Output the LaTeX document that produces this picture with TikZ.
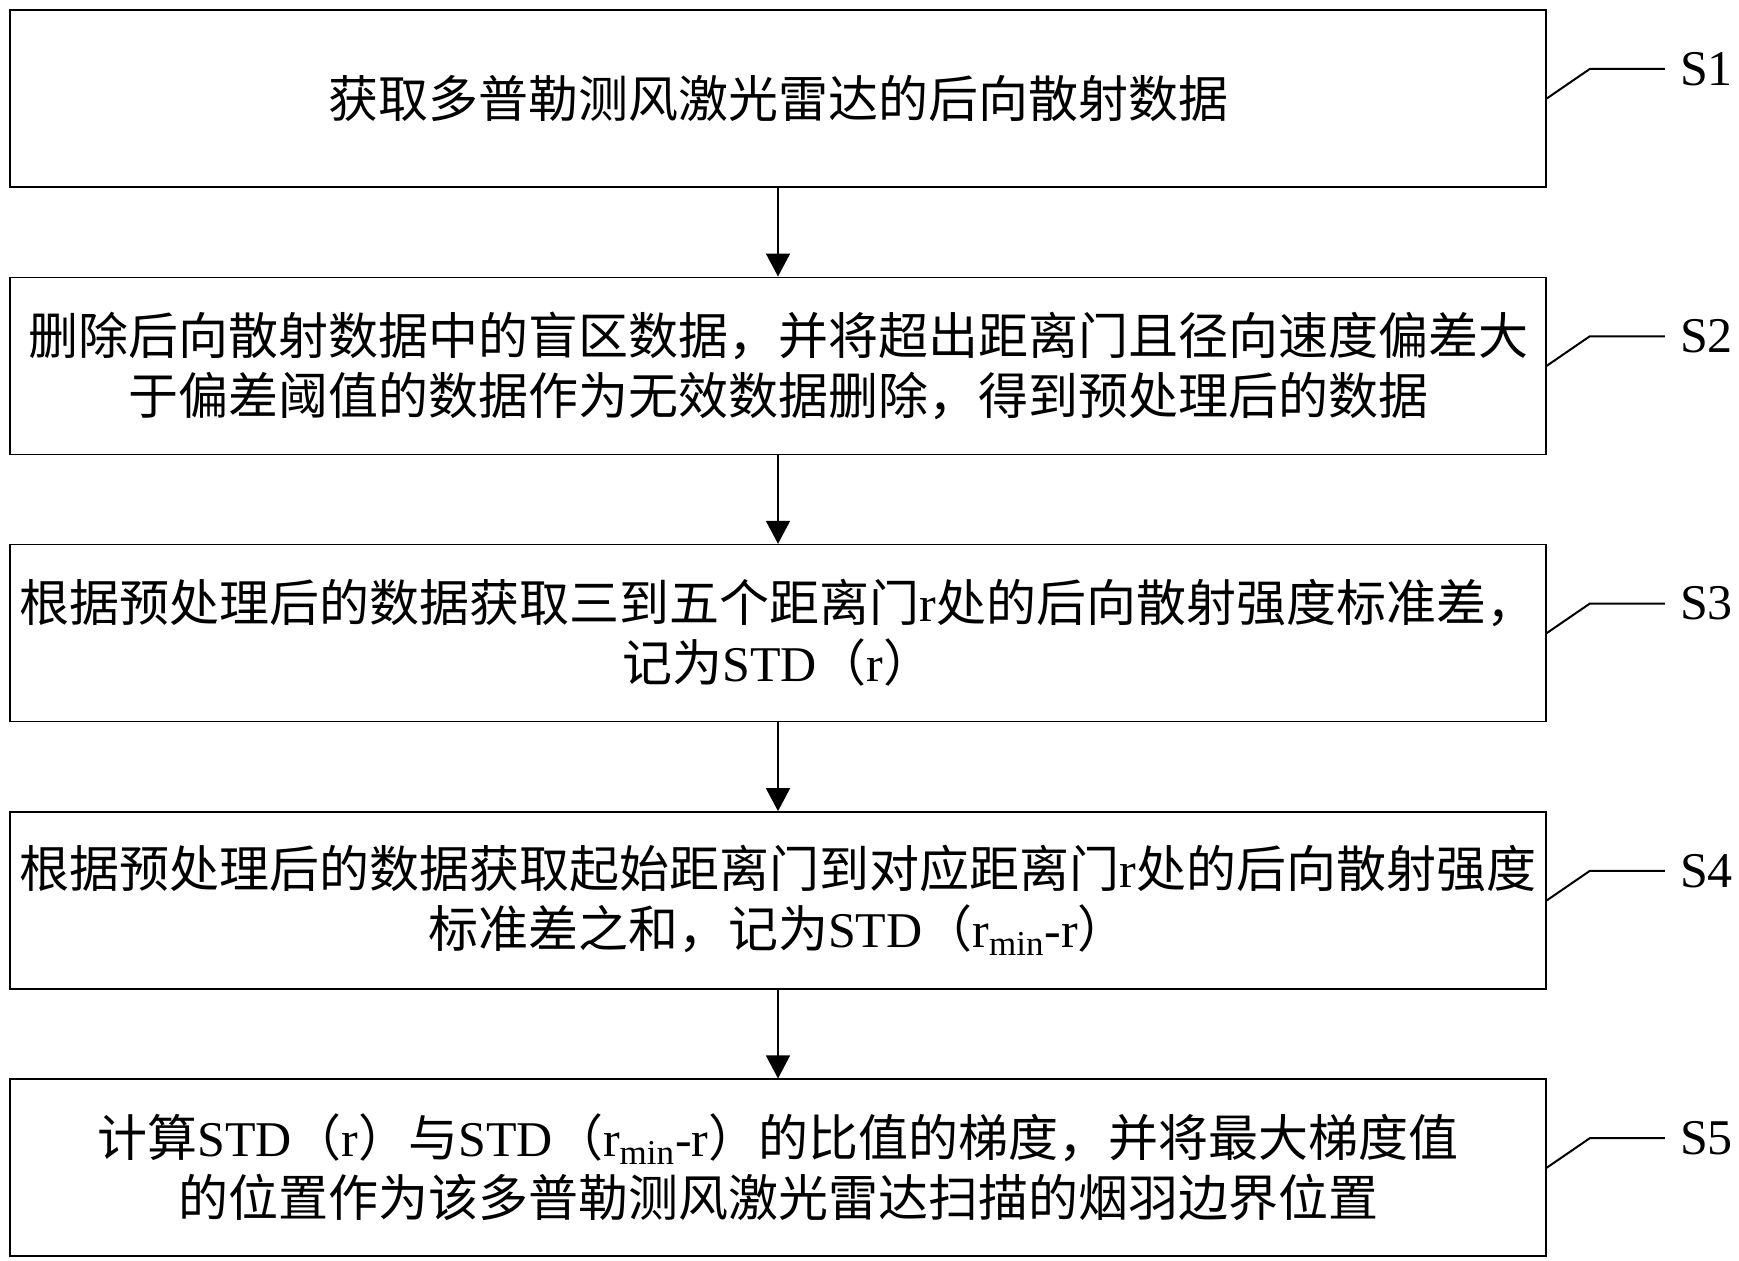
\documentclass[tikz,border=0pt]{standalone}
\usepackage{fontspec}
\setmainfont{Noto Sans CJK SC}
\newfontfamily\latin{Liberation Serif}
\usepackage{tikz}
\usetikzlibrary{arrows.meta,positioning}
\newcommand{\en}[1]{{\latin #1}}

\begin{document}
\begin{tikzpicture}[x=0.5pt,y=-0.5pt,
    box/.style={draw, line width=0.75pt, minimum width=768pt, minimum height=88.5pt,
        align=center, inner sep=0pt, font=\fontsize{25}{30}\selectfont},
    flow/.style={-{Triangle[width=12pt,length=11.5pt]}, line width=0.75pt},
    lead/.style={line width=1pt},
    steplabel/.style={anchor=west, inner sep=7.5pt, font=\latin\fontsize{25}{30}\selectfont}]
    \useasboundingbox (0,0) rectangle (1739,1261);
    \node[box] (s1) at (778,98.5) {获取多普勒测风激光雷达的后向散射数据};
    \node[box, below=44.4pt of s1] (s2) {删除后向散射数据中的盲区数据，并将超出距离门且径向速度偏差大\\于偏差阈值的数据作为无效数据删除，得到预处理后的数据};
    \node[box, below=44.4pt of s2] (s3) {根据预处理后的数据获取三到五个距离门\en{r}处的后向散射强度标准差，\\记为\en{STD}（\en{r}）};
    \node[box, below=44.4pt of s3] (s4) {根据预处理后的数据获取起始距离门到对应距离门\en{r}处的后向散射强度\\标准差之和，记为\en{STD}（\en{r\textsubscript{min}-r}）};
    \node[box, below=44.4pt of s4] (s5) {计算\en{STD}（\en{r}）与\en{STD}（\en{r\textsubscript{min}-r}）的比值的梯度，并将最大梯度值\\的位置作为该多普勒测风激光雷达扫描的烟羽边界位置};
    \foreach \i in {1,...,5}
    {
        \node[steplabel] (l\i) at ([xshift=59pt,yshift=14.75pt]s\i.east) {S\i};
        \draw[lead] (s\i.east) -- ++(21.5pt,14.75pt) -- (l\i.west);
    }
    \foreach \i/\j in {1/2,2/3,3/4,4/5}
        \draw[flow] (s\i) -- (s\j);
\end{tikzpicture}
\end{document}
